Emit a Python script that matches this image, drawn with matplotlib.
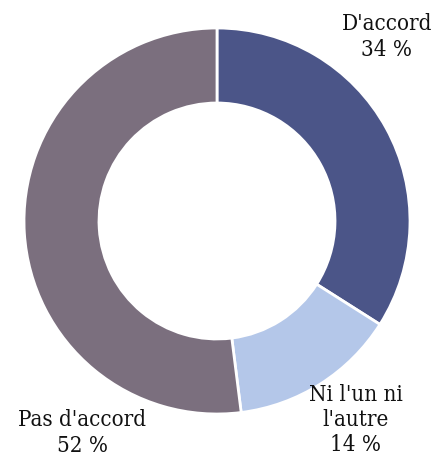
import matplotlib

matplotlib.use("Agg")
import matplotlib.pyplot as plt

labels = ["D'accord", "Ni l'un ni\nl'autre", "Pas d'accord"]
values = [34, 14, 52]
colors = ["#4b5588", "#b4c7e9", "#7b6f7e"]

# label anchors in pixel coords (x, y from top)
label_pos = [(387, 37), (356, 420), (82, 433)]

W, H = 441, 456
fig = plt.figure(figsize=(W / 100, H / 100), dpi=100)
ax = fig.add_axes([0, 0, 1, 1])

cx, cy, r = 217, H - 222, 193
ax.pie(
    values,
    colors=colors,
    startangle=90,
    counterclock=False,
    center=(cx, cy),
    radius=r,
    wedgeprops=dict(width=r - 118, edgecolor="white", linewidth=2),
    frame=True,
)
ax.set_xlim(0, W)
ax.set_ylim(0, H)
ax.set_aspect("equal")
ax.axis("off")

for lab, val, (x, y) in zip(labels, values, label_pos):
    ax.text(x, H - y, f"{lab}\n{val} %", ha="center", va="center",
            fontsize=16, family="DejaVu Serif", fontstretch="condensed",
            linespacing=1.2, color="#111111")

fig.savefig("out.png", dpi=100)
